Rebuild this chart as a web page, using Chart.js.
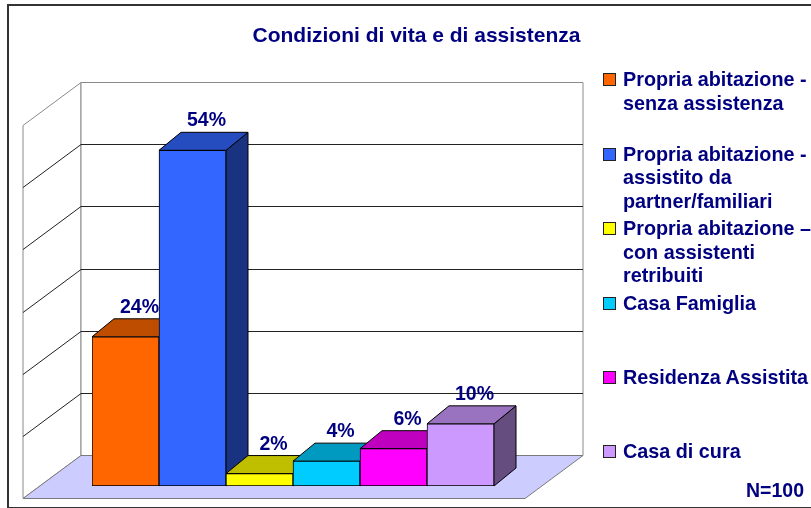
<!DOCTYPE html>
<html>
<head>
<meta charset="utf-8">
<script src="https://cdn.jsdelivr.net/npm/chart.js@4.4.1/dist/chart.umd.min.js"></script>
<style>
  body { margin: 0; background: #fff; font-family: "Liberation Sans", Arial, sans-serif; }
  #wrap { position: relative; width: 811px; height: 508px; overflow: hidden; }
  #frame { position: absolute; left: 7px; top: 4px; width: 900px; height: 501px; border: 2px solid #333; }
  #chart { position: absolute; left: 0; top: 0; }
  #title { position: absolute; left: 0; width: 833px; top: 24px; line-height: 21px; text-align: center;
           font-weight: bold; font-size: 21px; color: #000080; }
  .item { position: absolute; left: 603px; font-weight: bold; font-size: 19.8px; line-height: 23.5px; color: #000080; }
  .item .box { position: absolute; left: 0; width: 11px; height: 11px; border: 1px solid #222; }
  .item .txt { position: absolute; left: 20px; white-space: nowrap; }
  #n { position: absolute; right: 7px; top: 479px; font-weight: bold; font-size: 19.5px; line-height: 23.5px; color: #000080; }
</style>
</head>
<body>
<div id="wrap">
  <div id="frame"></div>
  <canvas id="chart" width="811" height="508"></canvas>
  <div id="title">Condizioni di vita e di assistenza</div>
  <div id="legend"></div>
  <div id="n">N=100</div>
</div>
<script>
// Dati
const categories = [
    ['Propria abitazione -', 'senza assistenza'],
    ['Propria abitazione -', 'assistito da', 'partner/familiari'],
    ['Propria abitazione \u2013', 'con assistenti', 'retribuiti'],
    ['Casa Famiglia'],
    ['Residenza Assistita'],
    ['Casa di cura']
];
const percentages = [24, 54, 2, 4, 6, 10];
const yTicks = [0, 10, 20, 30, 40, 50, 60];

const barColors = ['#FF6600', '#3366FF', '#FFFF00', '#00CCFF', '#FF00FF', '#CC99FF'];
const navy = '#000080';

function shade(hex, f) {
    const n = parseInt(hex.slice(1), 16);
    const r = Math.round(((n >> 16) & 255) * f);
    const g = Math.round(((n >> 8) & 255) * f);
    const b = Math.round((n & 255) * f);
    return 'rgb(' + r + ',' + g + ',' + b + ')';
}

function poly(ctx, pts, fill, stroke) {
    ctx.beginPath();
    ctx.moveTo(pts[0][0], pts[0][1]);
    for (let i = 1; i < pts.length; i++) ctx.lineTo(pts[i][0], pts[i][1]);
    ctx.closePath();
    if (fill) { ctx.fillStyle = fill; ctx.fill(); }
    if (stroke) { ctx.strokeStyle = stroke; ctx.stroke(); }
}

// pareti, pavimento e facce laterali/superiori delle barre
const depth3d = {
    id: 'depth3d',
    beforeDatasetsDraw(chart) {
        const { ctx, chartArea: ca, scales: { y } } = chart;
        const wl = ca.left - 11, wr = ca.right + 89;   // parete di fondo
        const sy = -31;                               // spostamento verticale parete
        const fx = -58, fy = 43;                      // profondita' pavimento
        const top = Math.round(y.getPixelForValue(yTicks[yTicks.length - 1]) + sy) + 0.5;
        const base = Math.round(y.getPixelForValue(0) + sy) + 0.5;

        ctx.save();
        ctx.lineWidth = 1;
        // parete laterale
        poly(ctx, [[wl, top], [wl, base], [wl + fx, base + fy], [wl + fx, top + fy]], '#fff', '#8a8a8a');
        // parete di fondo
        poly(ctx, [[wl, top], [wr, top], [wr, base], [wl, base]], '#fff', '#8a8a8a');
        // griglia
        yTicks.slice(1, -1).forEach(v => {
            const py = Math.round(y.getPixelForValue(v) + sy) + 0.5;
            ctx.strokeStyle = '#222';
            ctx.beginPath();
            ctx.moveTo(wl + fx, py + fy);
            ctx.lineTo(wl, py);
            ctx.lineTo(wr, py);
            ctx.stroke();
        });
        // pavimento
        poly(ctx, [[wl, base], [wr, base], [wr + fx, base + fy], [wl + fx, base + fy]], '#CCCCFF', '#7a7a7a');

        // facce 3D delle barre
        const dx = 22, dy = -18;
        chart.getDatasetMeta(0).data.forEach((bar, i) => {
            const l = bar.x - bar.width / 2, r = bar.x + bar.width / 2;
            const t = bar.y, b = bar.base;
            poly(ctx, [[r, t], [r + dx, t + dy], [r + dx, b + dy], [r, b]], shade(barColors[i], 0.5), '#000');
            poly(ctx, [[l, t], [l + dx, t + dy], [r + dx, t + dy], [r, t]], shade(barColors[i], 0.75), '#000');
        });
        ctx.restore();
    },
    afterDatasetsDraw(chart) {
        const { ctx } = chart;
        ctx.save();
        ctx.font = 'bold 19.5px "Liberation Sans", Arial, sans-serif';
        ctx.fillStyle = navy;
        ctx.textAlign = 'center';
        ctx.textBaseline = 'alphabetic';
        chart.getDatasetMeta(0).data.forEach((bar, i) => {
            ctx.fillText(percentages[i] + '%', bar.x + 14, bar.y - 24);
        });
        ctx.restore();
    }
};

new Chart(document.getElementById('chart'), {
    type: 'bar',
    data: {
        labels: categories,
        datasets: [{
            data: percentages,
            backgroundColor: barColors,
            borderColor: '#000',
            borderWidth: 1,
            borderSkipped: false,
            barPercentage: 1,
            categoryPercentage: 1
        }]
    },
    options: {
        responsive: false,
        animation: false,
        events: [],
        layout: { padding: { left: 92, right: 317, top: 113, bottom: 22 } },
        plugins: {
            legend: { display: false },
            title: { display: false },
            tooltip: { enabled: false }
        },
        scales: {
            x: { display: false },
            y: { display: false, min: yTicks[0], max: yTicks[yTicks.length - 1], ticks: { stepSize: 10 } }
        }
    },
    plugins: [depth3d]
});

// Legenda
const legend = document.getElementById('legend');
categories.forEach((lines, i) => {
    const baseline = 87 + i * 74.4;
    const item = document.createElement('div');
    item.className = 'item';
    item.style.top = (baseline - 18.6) + 'px';
    const box = document.createElement('div');
    box.className = 'box';
    box.style.top = '5px';
    box.style.background = barColors[i];
    const txt = document.createElement('div');
    txt.className = 'txt';
    txt.innerHTML = lines.join('<br>');
    item.appendChild(box);
    item.appendChild(txt);
    legend.appendChild(item);
});
</script>
</body>
</html>
